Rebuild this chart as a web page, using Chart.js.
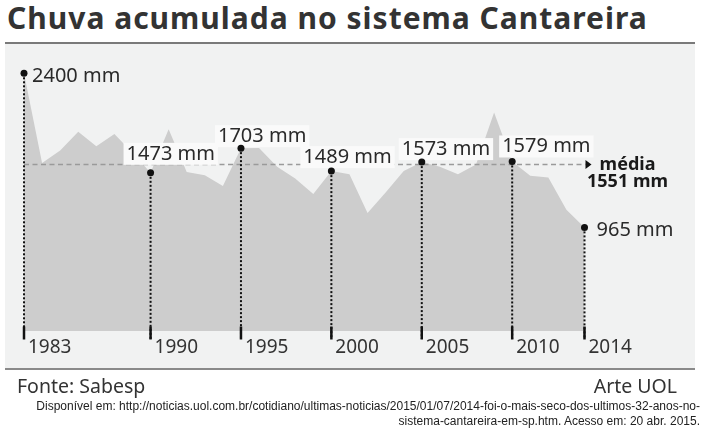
<!DOCTYPE html>
<html>
<head>
<meta charset="utf-8">
<script src="https://cdn.jsdelivr.net/npm/chart.js@4.4.1/dist/chart.umd.min.js"></script>
<style>
  html, body { margin: 0; padding: 0; background: #fff; }
  body { width: 720px; height: 433px; position: relative; overflow: hidden; font-family: "Noto Sans", sans-serif; color: #333; }
  .title { position: absolute; left: 7px; top: 1px; font-size: 30px; line-height: 34px; letter-spacing: 1px; font-weight: bold; color: #333; white-space: nowrap; }
  .panel { position: absolute; left: 5px; top: 42px; width: 690px; height: 324px; background: #f1f2f2; border-top: 2px solid #7a7a7a; border-bottom: 2px solid #8a8a8a; }
  #wrap { position: absolute; left: 0; top: 0; width: 720px; height: 433px; }
  .src { position: absolute; left: 17px; top: 373px; font-size: 19.5px; line-height: 26px; color: #333; }
  .arte { position: absolute; right: 43px; top: 373px; font-size: 19.5px; line-height: 26px; color: #333; }
  .cite { position: absolute; right: 20px; top: 399px; font-family: "Liberation Sans", Arial, sans-serif; font-size: 12px; line-height: 15px; text-align: right; color: #222; white-space: nowrap; }
</style>
</head>
<body>
<div class="title">Chuva acumulada no sistema Cantareira</div>
<div class="panel"></div>
<div id="wrap"><canvas id="chart" width="720" height="433"></canvas></div>
<div class="src">Fonte: Sabesp</div>
<div class="arte">Arte UOL</div>
<div class="cite">Disponível em: http://noticias.uol.com.br/cotidiano/ultimas-noticias/2015/01/07/2014-foi-o-mais-seco-dos-ultimos-32-anos-no-<br>sistema-cantareira-em-sp.htm. Acesso em: 20 abr. 2015.</div>
<script>
// chuva acumulada por ano (mm)
const years = [1983, 1984, 1985, 1986, 1987, 1988, 1989, 1990, 1991, 1992, 1993, 1994, 1995, 1996, 1997, 1998,
  1999, 2000, 2001, 2002, 2003, 2004, 2005, 2006, 2007, 2008, 2009, 2010, 2011, 2012, 2013, 2014];
const rain = [2400, 1565, 1680, 1855, 1720, 1835, 1660, 1473, 1880, 1480, 1450, 1350, 1703, 1705, 1530, 1420,
  1275, 1489, 1460, 1100, 1290, 1490, 1573, 1530, 1460, 1550, 2035, 1579, 1445, 1430, 1130, 965];
const tickYears = [1983, 1990, 1995, 2000, 2005, 2010, 2014];
const mean = 1551;

// label placement relative to the dot (text left, baseline)
const labelOffsets = { 1983: [8, 9], 1990: [-24, -13], 1995: [-23, -6], 2000: [-28, -8], 2005: [-20, -7], 2010: [-10, -9], 2014: [12, 9] };
const boxed = [1990, 1995, 2000, 2005, 2010];

const areaData = years.map((yr, i) => ({ x: yr, y: rain[i] }));
const dotData = tickYears.map(yr => ({ x: yr, y: rain[years.indexOf(yr)] }));

const overlay = {
  id: 'overlay',
  beforeDatasetDraw(chart, args) {
    if (args.index !== 1) return;
    const { ctx, scales: { x, y } } = chart;
    const y0 = y.getPixelForValue(0);
    ctx.save();

    // media tracejada
    const ym = y.getPixelForValue(mean);
    const xa = x.getPixelForValue(years[0]);
    const xb = x.getPixelForValue(years[years.length - 1]) + 1;
    ctx.strokeStyle = '#9a9a9a';
    ctx.lineWidth = 1.5;
    ctx.setLineDash([5, 3.5]);
    ctx.beginPath(); ctx.moveTo(xa, ym); ctx.lineTo(xb, ym); ctx.stroke();
    ctx.setLineDash([]);
    ctx.fillStyle = '#111';
    ctx.beginPath(); ctx.moveTo(xb, ym - 4.5); ctx.lineTo(xb + 6, ym); ctx.lineTo(xb, ym + 4.5); ctx.closePath(); ctx.fill();
    ctx.font = 'bold 18px "Noto Sans"';
    ctx.textAlign = 'center';
    ctx.textBaseline = 'alphabetic';
    ctx.fillStyle = '#1a1a1a';
    ctx.fillText('média', xb + 42, ym + 6);
    ctx.fillText(mean + ' mm', xb + 42, ym + 23);

    // linhas pontilhadas, marcas e anos
    dotData.forEach(p => {
      const px = x.getPixelForValue(p.x);
      const py = y.getPixelForValue(p.y);
      ctx.strokeStyle = '#111';
      ctx.lineWidth = 2;
      ctx.setLineDash([2, 2]);
      ctx.beginPath(); ctx.moveTo(px, py); ctx.lineTo(px, y0 + 8); ctx.stroke();
      ctx.setLineDash([]);
      ctx.lineWidth = 2.5;
      ctx.beginPath(); ctx.moveTo(px, y0 - 4.5); ctx.lineTo(px, y0 + 8.5); ctx.stroke();
      ctx.font = '19px "Noto Sans"';
      ctx.textAlign = 'left';
      ctx.fillStyle = '#333';
      ctx.fillText(String(p.x), px + 4, y0 + 22);

      const txt = p.y + ' mm';
      const [dx, dy] = labelOffsets[p.x];
      ctx.font = '20px "Noto Sans"';
      const w = ctx.measureText(txt).width;
      if (boxed.includes(p.x)) {
        ctx.fillStyle = '#fafafa';
        ctx.fillRect(px + dx - 3, py + dy - 17, w + 6, 22);
      }
      ctx.fillStyle = '#2a2a2a';
      ctx.fillText(txt, px + dx, py + dy);
    });
    ctx.restore();
  }
};

new Chart(document.getElementById('chart'), {
  type: 'line',
  data: {
    datasets: [
      { data: areaData, order: 1, fill: 'origin', backgroundColor: '#cdcdcd', borderWidth: 0, pointRadius: 0, tension: 0 },
      { data: dotData, order: 0, showLine: false, pointRadius: 3.5, pointBackgroundColor: '#111', pointBorderWidth: 0, clip: false }
    ]
  },
  options: {
    responsive: false,
    animation: false,
    devicePixelRatio: 1,
    layout: { padding: { left: 24, right: 135.5, top: 73.3, bottom: 102 } },
    scales: {
      x: { type: 'linear', min: 1983, max: 2014, display: false },
      y: { min: 0, max: 2400, display: false }
    },
    plugins: { legend: { display: false }, tooltip: { enabled: false } }
  },
  plugins: [overlay]
});
</script>
</body>
</html>
